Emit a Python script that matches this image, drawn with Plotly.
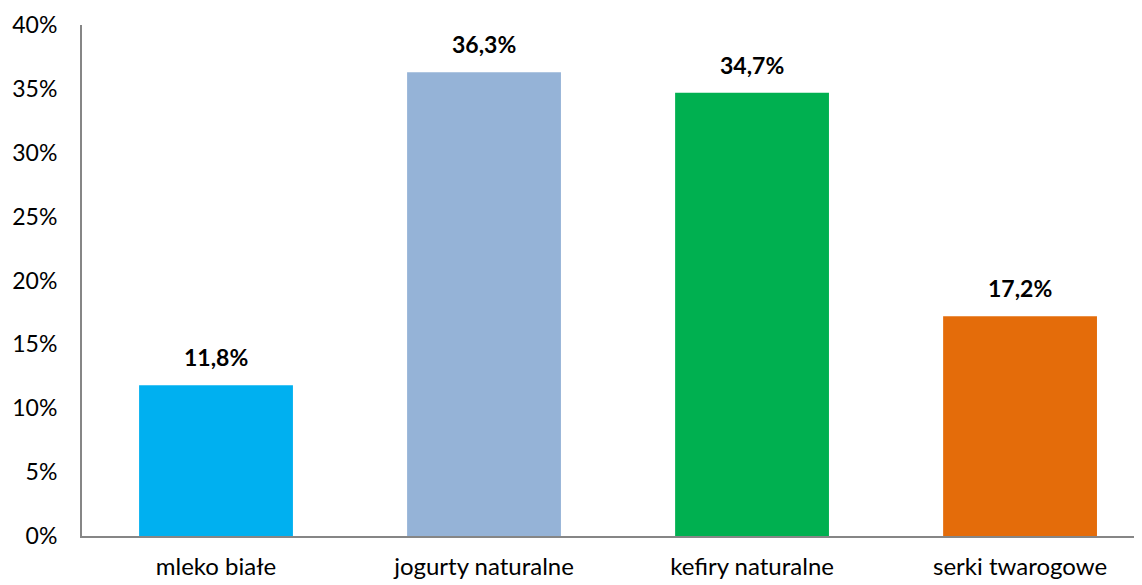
import plotly.graph_objects as go

categories = ["mleko białe", "jogurty naturalne", "kefiry naturalne", "serki twarogowe"]
values = [11.8, 36.3, 34.7, 17.2]
value_labels = ["11,8%", "36,3%", "34,7%", "17,2%"]
bar_colors = ["#00B0F0", "#95B3D7", "#00B050", "#E46C0A"]
y_ticks = [0, 5, 10, 15, 20, 25, 30, 35, 40]
y_tick_labels = [f"{t}%" for t in y_ticks]

FONT = "Lato, 'Open Sans', sans-serif"

fig = go.Figure(
    go.Bar(
        x=list(range(len(categories))),
        y=values,
        marker=dict(color=bar_colors, line=dict(width=0)),
        width=0.574,
        hoverinfo="skip",
    )
)

# bold value labels floating above each bar
for i, (v, lab) in enumerate(zip(values, value_labels)):
    fig.add_annotation(
        x=i, y=v, text=f"<b>{lab}</b>", showarrow=False,
        yanchor="bottom", yshift=12,
        font=dict(family=FONT, size=23, color="#000000"),
    )

# the page body adds an 8px margin, so the figure is sized 8px smaller
fig.update_layout(
    width=1134, height=577,
    margin=dict(l=74, r=0, t=17, b=49, autoexpand=False),
    plot_bgcolor="white", paper_bgcolor="white",
    showlegend=False,
    font=dict(family=FONT, size=23, color="#000000"),
)
fig.update_xaxes(
    range=[-0.5, 3.455], automargin=False,
    tickmode="array", tickvals=list(range(len(categories))), ticktext=categories,
    tickfont=dict(size=24),
    showline=True, linecolor="#868686", linewidth=2,
    showgrid=False, zeroline=False, ticks="", ticklabelstandoff=8,
)
fig.update_yaxes(
    range=[0, 40], automargin=False,
    tickmode="array", tickvals=y_ticks, ticktext=y_tick_labels,
    showline=True, linecolor="#868686", linewidth=2,
    showgrid=False, zeroline=False, ticks="", ticklabelstandoff=18,
)

fig.write_html("out.html")
